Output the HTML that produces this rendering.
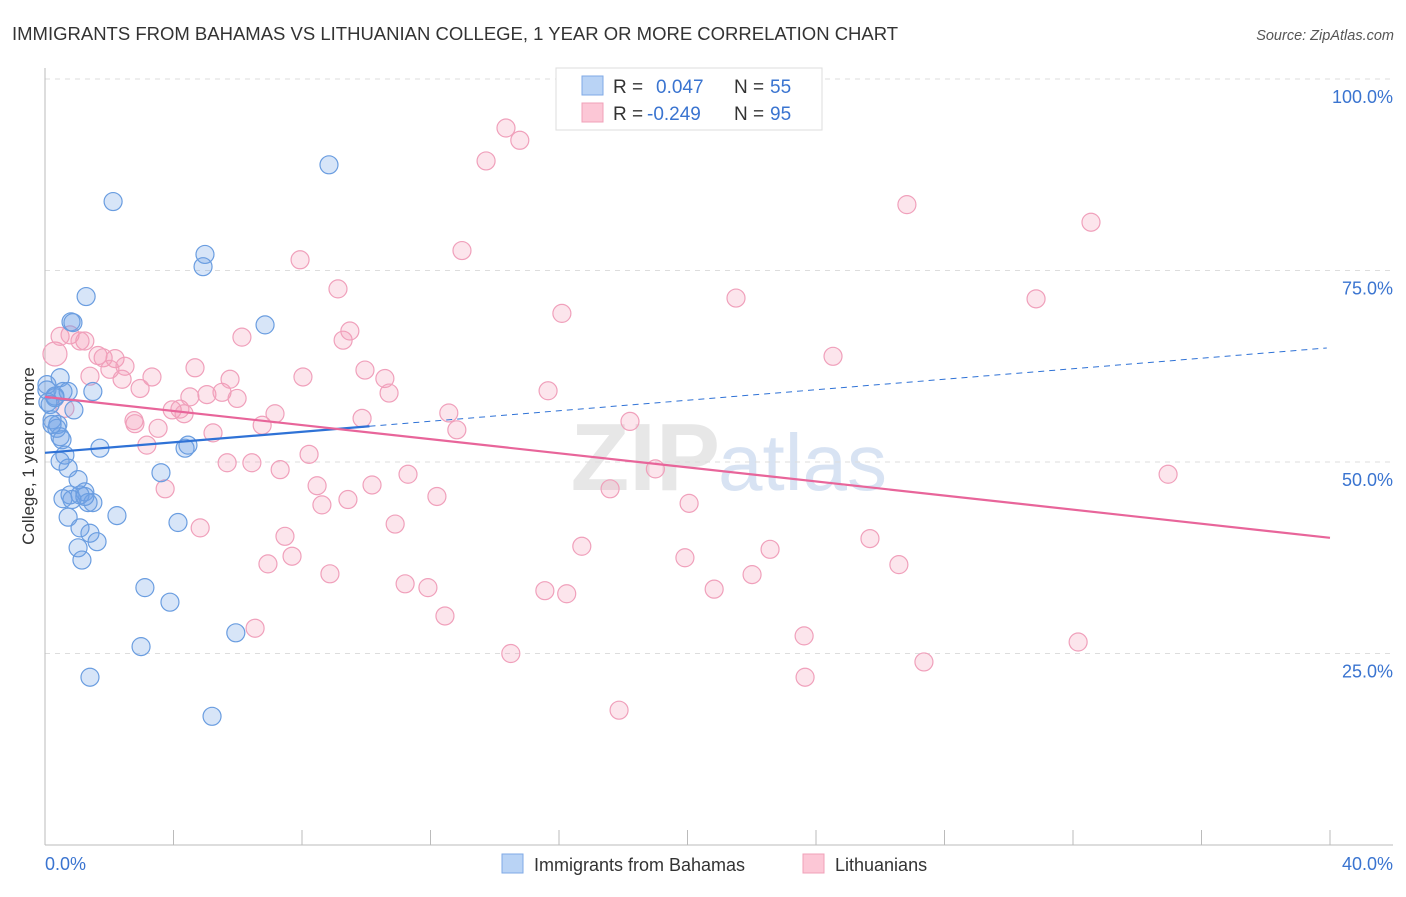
<!DOCTYPE html>
<html><head><meta charset="utf-8"><style>
body{margin:0;background:#fff;font-family:"Liberation Sans",sans-serif;}
svg text{font-family:"Liberation Sans",sans-serif;}
</style></head><body>
<svg id="c" width="1406" height="892" xmlns="http://www.w3.org/2000/svg">
<text x="12" y="40" font-size="18.5" fill="#333">IMMIGRANTS FROM BAHAMAS VS LITHUANIAN COLLEGE, 1 YEAR OR MORE CORRELATION CHART</text>
<text x="1394" y="40" font-size="14.5" fill="#555" text-anchor="end" font-style="italic">Source: ZipAtlas.com</text>
<text x="720" y="490" font-size="96" fill="#ddd" text-anchor="end" font-weight="bold" opacity="0.7">ZIP</text>
<text x="718" y="490" font-size="80" fill="#c8d8ee" opacity="0.7">atlas</text>
<g id="grid"></g>
<g id="pts"></g>
<g id="lines"></g>
<text transform="translate(34,456) rotate(-90)" font-size="17" fill="#333" text-anchor="middle">College, 1 year or more</text>
<g>
<rect x="556" y="68" width="266" height="62" fill="#fff" stroke="#ddd"/>
<rect x="582" y="76" width="21" height="19" fill="#b9d3f5" stroke="#7fa9e6"/>
<rect x="582" y="103" width="21" height="19" fill="#fcc7d6" stroke="#f0a0b8"/>
<text x="613" y="93" font-size="19" fill="#333">R = </text><text x="656" y="93" font-size="19" fill="#3a74d0">0.047</text>
<text x="734" y="93" font-size="19" fill="#333">N = </text><text x="770" y="93" font-size="19" fill="#3a74d0">55</text>
<text x="613" y="120" font-size="19" fill="#333">R = </text><text x="647" y="120" font-size="19" fill="#3a74d0">-0.249</text>
<text x="734" y="120" font-size="19" fill="#333">N = </text><text x="770" y="120" font-size="19" fill="#3a74d0">95</text>
</g>
<g>
<rect x="502" y="854" width="21" height="19" fill="#b9d3f5" stroke="#7fa9e6"/>
<text x="534" y="871" font-size="18" fill="#333">Immigrants from Bahamas</text>
<rect x="803" y="854" width="21" height="19" fill="#fcc7d6" stroke="#f0a0b8"/>
<text x="835" y="871" font-size="18" fill="#333">Lithuanians</text>
</g>
</svg>
<script>
const yTicks=[25,50,75,100];
const yTickLabels=["25.0%","50.0%","75.0%","100.0%"];
const xTickLabels=["0.0%","40.0%"];
const blueX=[0.06,0.06,0.16,0.22,0.31,0.47,0.56,0.72,1.49,0.90,0.40,0.47,0.53,0.62,0.72,1.03,0.78,1.24,1.09,1.49,1.34,0.72,1.09,1.40,1.62,1.03,1.15,1.71,2.24,0.81,0.87,1.28,2.12,4.98,4.92,6.85,8.84,4.36,4.45,3.61,4.14,3.11,3.89,5.94,2.99,1.40,5.20,0.31,0.37,0.84,0.56,0.09,0.22,0.47,1.24];
const blueY=[60.1,59.4,57.5,55.5,58.4,61.0,59.2,59.2,59.2,56.8,54.9,53.3,52.9,50.9,49.2,47.7,45.7,46.1,45.7,44.7,44.7,42.8,41.4,40.7,39.6,38.8,37.2,51.8,43.0,68.3,68.2,71.6,84.0,77.1,75.5,67.9,88.8,51.8,52.2,48.6,42.1,33.6,31.7,27.7,25.9,21.9,16.8,58.6,54.4,45.1,45.2,57.8,54.9,50.1,45.5];
const pinkX=[0.31,0.47,0.78,1.24,1.09,1.65,2.18,1.81,2.02,2.49,2.40,3.33,2.96,2.77,3.17,3.52,3.74,3.96,4.20,4.33,4.51,4.67,4.83,5.04,5.23,5.51,5.76,5.98,5.67,6.13,6.44,6.54,6.76,6.94,7.16,7.32,7.47,7.69,7.94,8.03,8.22,8.47,8.62,8.87,9.12,9.28,9.49,9.43,9.87,9.96,10.18,10.58,10.71,10.90,11.21,11.30,11.92,12.20,12.45,12.57,12.82,12.98,13.73,14.35,14.78,14.50,15.56,15.66,16.09,16.24,16.71,17.59,17.87,18.21,19.00,19.92,20.05,20.83,21.51,22.01,22.57,23.66,23.63,24.53,25.68,26.58,26.83,27.36,30.85,32.16,32.56,34.96,0.62,1.40,2.80];
const pinkY=[64.1,66.4,66.6,65.8,65.8,63.9,63.5,63.6,62.1,62.5,60.8,61.1,59.6,55.4,52.2,54.4,46.5,56.8,56.9,56.3,58.5,62.3,41.4,58.8,53.8,59.1,60.8,58.3,49.9,66.3,49.9,28.3,54.8,36.7,56.3,49.0,40.3,37.7,76.4,61.1,51.0,46.9,44.4,35.4,72.6,65.9,67.1,45.1,55.7,62.0,47.0,60.9,59.0,41.9,34.1,48.4,33.6,45.5,29.9,56.4,54.2,77.6,89.3,93.6,92.0,25.0,33.2,59.3,69.4,32.8,39.0,46.5,17.6,55.3,49.1,37.5,44.6,33.4,71.4,35.3,38.6,21.9,27.3,63.8,40.0,36.6,83.6,23.9,71.3,26.5,81.3,48.4,57.0,61.2,55.0];
const X0=45,X1=1330,Y0=845,YP=7.66;
const sx=v=>X0+v/40*(X1-X0);
const sy=v=>Y0-v*YP;
const NS="http://www.w3.org/2000/svg";
function mk(tag,attrs,parent){const e=document.createElementNS(NS,tag);for(const k in attrs)e.setAttribute(k,attrs[k]);parent.appendChild(e);return e;}
const grid=document.getElementById('grid');
yTicks.forEach((t,i)=>{
 const l=mk('line',{x1:45,x2:1393,y1:sy(t),y2:sy(t),stroke:'#ddd','stroke-dasharray':'5,5'},grid);
 
 
 const tx=mk('text',{x:1393,y:sy(t)+24,'font-size':18,fill:'#3a74d0','text-anchor':'end'},grid);
 tx.textContent=yTickLabels[i];
 
 
});
const ax=mk('line',{x1:45,x2:45,y1:68,y2:845,stroke:'#bbb'},grid);


const bx=mk('line',{x1:45,x2:1393,y1:845,y2:845,stroke:'#bbb'},grid);


for(let i=0;i<=10;i++){
 const t=mk('line',{x1:sx(i*4),x2:sx(i*4),y1:830,y2:845,stroke:'#bbb'},grid);
 
 
}
const xl0=mk('text',{x:45,y:870,'font-size':18,fill:'#3a74d0'},grid);xl0.textContent=xTickLabels[0];


const xl1=mk('text',{x:1393,y:870,'font-size':18,fill:'#3a74d0','text-anchor':'end'},grid);xl1.textContent=xTickLabels[1];


const pts=document.getElementById('pts');
pinkX.forEach((x,i)=>{
 const c=mk('circle',{cx:sx(x),cy:sy(pinkY[i]),r:i==0?12:9,fill:'rgba(245,150,180,0.25)',stroke:'#f0a0bb','stroke-width':1.2},pts);
 
 
});
blueX.forEach((x,i)=>{
 const c=mk('circle',{cx:sx(x),cy:sy(blueY[i]),r:9,fill:'rgba(110,160,230,0.28)',stroke:'#6a9de0','stroke-width':1.2},pts);
 
 
});
const lines=document.getElementById('lines');
const bl=x=>51.2+0.343*x, pl=x=>58.5-0.46*x;
const l1=mk('line',{x1:sx(0),y1:sy(bl(0)),x2:sx(10.1),y2:sy(bl(10.1)),stroke:'#2f72d6','stroke-width':2.2},lines);


const l2=mk('line',{x1:sx(10.1),y1:sy(bl(10.1)),x2:sx(39.9),y2:sy(bl(39.9)),stroke:'#2f72d6','stroke-width':1,'stroke-dasharray':'6,5'},lines);


const l3=mk('line',{x1:sx(0),y1:sy(pl(0)),x2:sx(40),y2:sy(pl(40)),stroke:'#e8659a','stroke-width':2.2},lines);


</script>
</body></html>
